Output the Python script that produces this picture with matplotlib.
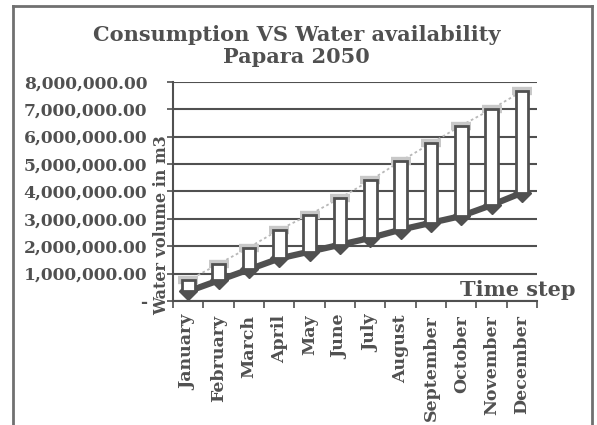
import matplotlib.pyplot as plt
from matplotlib.ticker import FuncFormatter
import numpy as np

months = ["January", "February", "March", "April", "May", "June", "July",
          "August", "September", "October", "November", "December"]
# water availability (upper) and consumption (lower), m3
availability = [750000, 1350000, 1950000, 2600000, 3150000, 3750000,
                4400000, 5100000, 5750000, 6400000, 7000000, 7650000]
consumption = [350000, 750000, 1150000, 1550000, 1800000, 2050000,
               2300000, 2600000, 2850000, 3100000, 3500000, 3950000]

dark = "#505050"
font = "DejaVu Serif"

fig = plt.figure(figsize=(5.97, 4.25), dpi=100)
ax = fig.add_axes([0.2898, 0.2918, 0.61, 0.516])

x = np.arange(len(months))
avail = np.array(availability)
cons = np.array(consumption)

# consumption line with diamonds
ax.plot(x, cons, color=dark, lw=4.5, marker="D", ms=9, zorder=3)
# availability line, light gray dotted with dash markers
ax.plot(x, avail, color="#b8b8b8", lw=1.3, ls=(0, (1.5, 1.5)),
        marker="_", ms=15, mew=6, mec="#c8c8c8", zorder=3)
# up/down bars
ax.bar(x, avail - cons, bottom=cons, width=0.42, color="white",
       edgecolor=dark, linewidth=2, zorder=4)

ax.set_xlim(-0.5, len(months) - 0.5)
ax.set_ylim(0, 8000000)
ax.set_yticks(np.arange(0, 8000001, 1000000))
ax.yaxis.set_major_formatter(FuncFormatter(
    lambda v, p: "-" if v == 0 else f"{v:,.2f}"))
ax.grid(axis="y", color=dark, lw=1.5, zorder=0)
ax.set_axisbelow(True)

ax.set_xticks(x)
ax.set_xticklabels(months, rotation=90, fontfamily=font, fontweight="bold",
                   fontsize=12.5, color=dark)
ax.set_xticks(np.arange(-0.5, len(months)), minor=True)
ax.tick_params(axis="x", which="major", length=0, pad=10)
ax.tick_params(axis="x", which="minor", length=5, width=1.2, color=dark)
ax.tick_params(axis="y", length=4, width=1.2, color=dark, pad=14.5)
for lab in ax.get_yticklabels():
    lab.set_fontfamily(font)
    lab.set_fontweight("bold")
    lab.set_fontsize(12.3)
    lab.set_color(dark)

for s in ["top", "right"]:
    ax.spines[s].set_visible(False)
for s in ["left", "bottom"]:
    ax.spines[s].set_color(dark)
    ax.spines[s].set_linewidth(1.5)

fig.text(0.497, 1 - 46 / 425, "Consumption VS Water availability\nPapara 2050",
         ha="center", va="center", fontfamily=font, fontweight="bold",
         fontsize=15, color=dark, linespacing=1.15)
fig.text(162 / 597, 1 - 225 / 425, "Water volume in m3", rotation=90,
         ha="center", va="center", fontfamily=font, fontweight="bold",
         fontsize=11.5, color=dark)
fig.text(576 / 597, 1 - 290 / 425, "Time step", ha="right", va="center",
         fontfamily=font, fontweight="bold", fontsize=15, color=dark)

# outer chart border
fig.add_artist(plt.Line2D([13 / 597, 13 / 597], [0, 1 - 6 / 425],
                          transform=fig.transFigure, color="#707070", lw=2))
fig.add_artist(plt.Line2D([13 / 597, 592 / 597], [1 - 6 / 425, 1 - 6 / 425],
                          transform=fig.transFigure, color="#707070", lw=2))
fig.add_artist(plt.Line2D([592 / 597, 592 / 597], [0, 1 - 6 / 425],
                          transform=fig.transFigure, color="#707070", lw=2))

fig.savefig("out.png", dpi=100)
